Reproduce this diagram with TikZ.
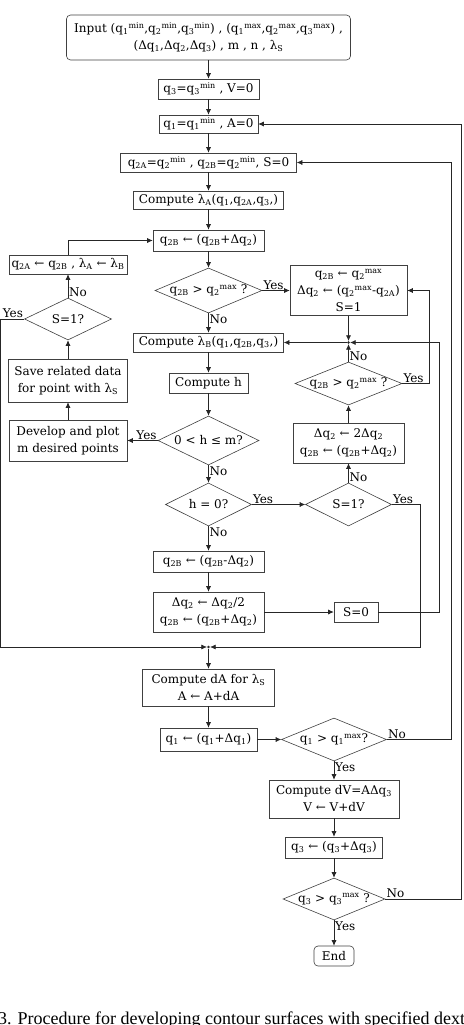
\documentclass[tikz,border=0pt]{standalone}
\usepackage{fontspec}
\setmainfont{DejaVu Serif}
\newfontfamily\capfont{Liberation Serif}
\usetikzlibrary{shapes.geometric, arrows.meta}
\newcommand{\lo}[1]{\textsubscript{#1}}
\newcommand{\hi}[1]{\textsuperscript{#1}}

\begin{document}
\begin{tikzpicture}[x=1pt, y=-1pt,
    txt/.style={font=\fontsize{12}{17}\selectfont},
    box/.style={txt, draw=black!75, line width=0.6pt, align=center, inner sep=1pt},
    rbox/.style={box, rounded corners=4pt},
    decision/.style={txt, draw=black!75, line width=0.6pt, diamond, aspect=2.4, inner xsep=-10pt, inner ysep=-2pt, align=center},
    sz/.style 2 args={minimum width=#1, minimum height=#2},
    lbl/.style={txt, inner sep=1pt},
    flow/.style={-{Latex[length=5.5pt, width=5pt]}, line width=0.6pt, draw=black!85},
    dot/.style={circle, fill=black!85, inner sep=0pt, minimum size=2.8pt},
    ]
    \useasboundingbox (0,0) rectangle (463,1025);

    % set-up of the outer loops
    \node[rbox, sz={284pt}{45pt}] (input) at (208.5,37.5) {Input (q\lo{1}\hi{min},q\lo{2}\hi{min},q\lo{3}\hi{min}) , (q\lo{1}\hi{max},q\lo{2}\hi{max},q\lo{3}\hi{max}) ,\\ (Δq\lo{1},Δq\lo{2},Δq\lo{3}) , m , n , λ\lo{S}};
    \node[box, sz={101pt}{20pt}] (initq3) at (208.5,89) {q\lo{3}=q\lo{3}\hi{min} , V=0};
    \node[box, sz={99pt}{18pt}] (initq1) at (208.5,124) {q\lo{1}=q\lo{1}\hi{min} , A=0};
    \node[box, sz={176pt}{19pt}] (initq2) at (208.5,162.5) {q\lo{2A}=q\lo{2}\hi{min} , q\lo{2B}=q\lo{2}\hi{min}, S=0};
    \node[box, sz={150pt}{18pt}] (lamA) at (208.5,200) {Compute λ\lo{A}(q\lo{1},q\lo{2A},q\lo{3},)};

    % stepping q2B
    \node[box, sz={111pt}{21pt}] (stepB) at (208.5,240.5) {q\lo{2B} ← (q\lo{2B}+Δq\lo{2})};
    \node[decision, sz={107pt}{45pt}] (overA) at (208.5,290.5) {q\lo{2B} > q\lo{2}\hi{max} ?};
    \node[box, sz={117pt}{50pt}] (clampB) at (348.5,290.5) {q\lo{2B} ← q\lo{2}\hi{max}\\ Δq\lo{2} ← (q\lo{2}\hi{max}-q\lo{2A})\\ S=1};
    \node[box, sz={118pt}{19pt}] (swapAB) at (68,264.5) {q\lo{2A} ← q\lo{2B} , λ\lo{A} ← λ\lo{B}};
    \node[decision, sz={87pt}{42pt}] (flagL) at (68,319) {S=1?};
    \node[box, sz={150pt}{19pt}] (lamB) at (208.5,342.5) {Compute λ\lo{B}(q\lo{1},q\lo{2B},q\lo{3},)};
    \node[box, sz={119pt}{43pt}] (save) at (68,380.5) {Save related data\\ for point with λ\lo{S}};
    \node[box, sz={79pt}{20pt}] (comph) at (208.5,383) {Compute h};
    \node[box, sz={118pt}{41pt}] (plot) at (68,440.5) {Develop and plot\\ m desired points};
    \node[decision, sz={101pt}{49pt}] (hrange) at (208.5,440.5) {0 < h ≤ m?};

    % search for h = 0
    \node[decision, sz={107pt}{43pt}] (overB) at (348.5,383.5) {q\lo{2B} > q\lo{2}\hi{max} ?};
    \node[box, sz={111pt}{40pt}] (doubleB) at (348.5,443) {Δq\lo{2} ← 2Δq\lo{2}\\ q\lo{2B} ← (q\lo{2B}+Δq\lo{2})};
    \node[decision, sz={86pt}{43pt}] (hzero) at (208.5,504.5) {h = 0?};
    \node[decision, sz={86pt}{43pt}] (flagR) at (348.5,504.5) {S=1?};
    \node[box, sz={111pt}{21pt}] (backB) at (208.5,561.5) {q\lo{2B} ← (q\lo{2B}-Δq\lo{2})};
    \node[box, sz={111pt}{40pt}] (halveB) at (208.5,612) {Δq\lo{2} ← Δq\lo{2}/2\\ q\lo{2B} ← (q\lo{2B}+Δq\lo{2})};
    \node[box, sz={44pt}{20pt}] (reset) at (356,612) {S=0};

    % area and volume
    \node[box, sz={132pt}{37pt}] (area) at (208.5,687.5) {Compute dA for λ\lo{S}\\ A ← A+dA};
    \node[box, sz={97pt}{23pt}] (stepq1) at (208.5,739.5) {q\lo{1} ← (q\lo{1}+Δq\lo{1})};
    \node[decision, sz={105pt}{43pt}] (overq1) at (334,739.5) {q\lo{1} > q\lo{1}\hi{max}?};
    \node[box, sz={130pt}{38pt}] (volume) at (334,799) {Compute dV=AΔq\lo{3}\\ V ← V+dV};
    \node[box, sz={97pt}{21pt}] (stepq3) at (334,847.5) {q\lo{3} ← (q\lo{3}+Δq\lo{3})};
    \node[decision, sz={102pt}{42pt}] (overq3) at (334,899) {q\lo{3} > q\lo{3}\hi{max} ?};
    \node[rbox, sz={40pt}{20pt}] (finish) at (334,956) {End};

    % junctions
    \node[dot] (joinB) at (348.5,342.5) {};
    \node[dot] (joinA) at (208.5,647) {};

    % straight connectors
    \foreach \a/\b in {input/initq3, initq3/initq1, initq1/initq2, initq2/lamA, lamA/stepB,
        stepB/overA, overA/clampB, overA/lamB, clampB/joinB, joinB/lamB, lamB/comph,
        comph/hrange, hrange/plot, plot/save, save/flagL, flagL/swapAB, hrange/hzero,
        hzero/flagR, flagR/doubleB, doubleB/overB, overB/joinB, hzero/backB, backB/halveB,
        halveB/reset, joinA/area, area/stepq1, stepq1/overq1, overq1/volume,
        volume/stepq3, stepq3/overq3, overq3/finish}{
        \draw[flow] (\a) -- (\b);
    }

    % loops back
    \draw[flow] (swapAB.north) |- (stepB.west);
    \draw[flow] (flagL.west) -- ++(-23.7,0) |- (joinA);
    \draw[flow] (overB.east) -- ++(27,0) |- (clampB.east);
    \draw[flow] (reset.east) -- ++(61,0) |- (joinB);
    \draw[flow] (flagR.east) -- ++(28,0) |- (joinA);
    \draw[flow] (overq1.east) -- ++(64,0) |- (initq2.east);
    \draw[flow] (overq3.east) -- ++(76,0) |- (initq1.east);

    % branch labels
    \node[lbl, anchor=south west] (yesA) at (overA.east) {Yes};
    \node[lbl, anchor=north west] (noA) at (overA.south) {No};
    \node[lbl, anchor=south west] (noL) at (flagL.north) {No};
    \node[lbl, anchor=south east] (yesL) at (flagL.west) {Yes};
    \node[lbl, anchor=south east] (yesH) at (hrange.west) {Yes};
    \node[lbl, anchor=north west] (noH) at (hrange.south) {No};
    \node[lbl, anchor=south west] (noB) at (overB.north) {No};
    \node[lbl, anchor=south west] (yesB) at (overB.east) {Yes};
    \node[lbl, anchor=south west] (yesZ) at (hzero.east) {Yes};
    \node[lbl, anchor=north west] (noZ) at (hzero.south) {No};
    \node[lbl, anchor=south west] (noR) at (flagR.north) {No};
    \node[lbl, anchor=south west] (yesR) at (flagR.east) {Yes};
    \node[lbl, anchor=south west] (noQ1) at (overq1.east) {No};
    \node[lbl, anchor=north west] (yesQ1) at (overq1.south) {Yes};
    \node[lbl, anchor=south west] (noQ3) at (overq3.east) {No};
    \node[lbl, anchor=north west] (yesQ3) at (overq3.south) {Yes};

    % caption, cut by the page edge
    \node[anchor=base west, inner sep=0pt, font=\capfont\fontsize{18}{18}\selectfont] (caption) at (-2,1024.5) {3. Procedure for developing contour surfaces with specified dexterity};
\end{tikzpicture}
\end{document}
